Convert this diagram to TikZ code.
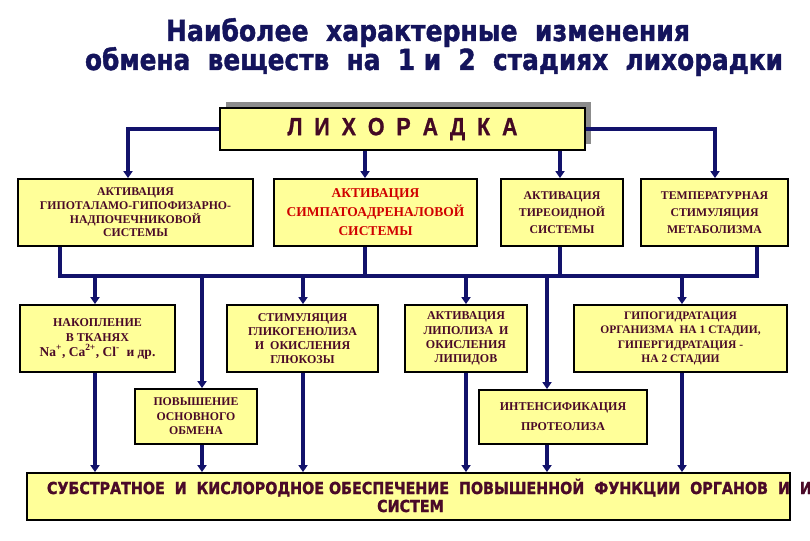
\documentclass[tikz,border=0pt]{standalone}
\usepackage{fontspec}
\usepackage{graphicx}
\usetikzlibrary{arrows.meta}
\setmainfont{Liberation Serif}
\newfontfamily\tfont{DejaVu Sans}[BoldFeatures={FakeBold=1.5}]
\newfontfamily\lfont{Liberation Sans}[BoldFeatures={FakeBold=1}]
\definecolor{navy}{HTML}{12126B}
\definecolor{titleblue}{HTML}{14145C}
\definecolor{maroon}{HTML}{4A0A28}
\definecolor{boxy}{HTML}{FFFF99}
\definecolor{redt}{HTML}{D00000}
\definecolor{shadowg}{HTML}{8C8C8C}
\newsavebox\fitbox
\newlength\fitlen
\newcommand\fitw[2]{\sbox\fitbox{#2}\setlength\fitlen{\wd\fitbox}\pgfmathsetmacro\fitsx{#1/\fitlen}\scalebox{\fitsx}[1]{\usebox\fitbox}}
\newcommand\fitwref[3]{\sbox\fitbox{#2}\setlength\fitlen{\wd\fitbox}\pgfmathsetmacro\fitsx{#1/\fitlen}\scalebox{\fitsx}[1]{#3}}
\newcommand\btxt{\tfont\bfseries\fontsize{16.5}{16.5}\selectfont}
\tikzset{
 box/.style={draw=black, line width=1.8pt, fill=boxy, inner sep=0pt, align=center, text=maroon},
 arr/.style={draw=navy, line width=3.2pt, -{Triangle[width=9pt,length=7pt]}},
 ln/.style={draw=navy, line width=3.2pt},
 plain/.style={inner sep=0pt, outer sep=0pt},
}
\begin{document}
\begin{tikzpicture}[x=1pt,y=-1pt]
\useasboundingbox (0,0) rectangle (810,540);
\clip (0,0) rectangle (810,540);
\fill[white] (0,0) rectangle (810,540);
% title
\node[plain, anchor=base west, text=titleblue] (t1) at (166,41)
 {\fitw{524}{\tfont\bfseries\fontsize{29}{29}\selectfont Наиболее~~характерные~~изменения}};
\node[plain, anchor=base west, text=titleblue] (t2) at (85,70)
 {\fitw{698}{\tfont\bfseries\fontsize{29}{29}\selectfont обмена~~веществ~~на~~1~и~~2~~стадиях~~лихорадки}};
% main box with shadow
\fill[shadowg] (226,102) rectangle (591,144);
\node[box, minimum width=365pt, minimum height=42pt, text=maroon!90!black] (main) at (402.5,129)
 {\fitw{230}{\lfont\bfseries\fontsize{25}{25}\selectfont Л~~И~~Х~~О~~Р~~А~~Д~~К~~А}};
% row 1
\node[box, minimum width=235pt, minimum height=67pt, font=\bfseries\fontsize{11.8}{13.7}\selectfont] (b1) at (135.5,212.5)
 {АКТИВАЦИЯ\\ГИПОТАЛАМО-ГИПОФИЗАРНО-\\НАДПОЧЕЧНИКОВОЙ\\СИСТЕМЫ};
\node[box, minimum width=203pt, minimum height=67pt, text=redt, font=\bfseries\fontsize{13.5}{19}\selectfont] (b2) at (375.5,212.5)
 {АКТИВАЦИЯ\\СИМПАТОАДРЕНАЛОВОЙ\\СИСТЕМЫ};
\node[box, minimum width=122pt, minimum height=67pt, font=\bfseries\fontsize{11.8}{17}\selectfont] (b3) at (562,212.5)
 {АКТИВАЦИЯ\\ТИРЕОИДНОЙ\\СИСТЕМЫ};
\node[box, minimum width=147pt, minimum height=67pt, font=\bfseries\fontsize{11.8}{17}\selectfont] (b4) at (714.5,212.5)
 {ТЕМПЕРАТУРНАЯ\\СТИМУЛЯЦИЯ\\МЕТАБОЛИЗМА};
% row 2
\node[box, minimum width=155pt, minimum height=67pt, font=\bfseries\fontsize{12}{15}\selectfont] (c1) at (97.5,338.5)
 {НАКОПЛЕНИЕ\\В ТКАНЯХ\\{\fontsize{13.5}{15}\selectfont Na\textsuperscript{+}, Ca\textsuperscript{2+}, Cl\textsuperscript{-} ~и др.}};
\node[box, minimum width=151pt, minimum height=67pt, font=\bfseries\fontsize{12}{14}\selectfont] (c2) at (302.5,338.5)
 {СТИМУЛЯЦИЯ\\ГЛИКОГЕНОЛИЗА\\И~ ОКИСЛЕНИЯ\\ГЛЮКОЗЫ};
\node[box, minimum width=122pt, minimum height=67pt, font=\bfseries\fontsize{12}{14.3}\selectfont] (c3) at (466,338.5)
 {АКТИВАЦИЯ\\ЛИПОЛИЗА~ И\\ОКИСЛЕНИЯ\\ЛИПИДОВ};
\node[box, minimum width=213pt, minimum height=67pt, font=\bfseries\fontsize{11.5}{14.3}\selectfont] (c4) at (680.5,338.5)
 {ГИПОГИДРАТАЦИЯ\\ОРГАНИЗМА~ НА 1 СТАДИИ,\\ГИПЕРГИДРАТАЦИЯ -\\НА 2 СТАДИИ};
% row 3
\node[box, minimum width=122pt, minimum height=55pt, font=\bfseries\fontsize{11.8}{14.5}\selectfont] (d1) at (196,416.5)
 {ПОВЫШЕНИЕ\\ОСНОВНОГО\\ОБМЕНА};
\node[box, minimum width=168pt, minimum height=54pt, font=\bfseries\fontsize{12}{20}\selectfont] (d2) at (563,417)
 {ИНТЕНСИФИКАЦИЯ\\ПРОТЕОЛИЗА};
% bottom box
\node[box, minimum width=763pt, minimum height=47pt] (bot) at (408.5,496.5) {};
\node[plain, anchor=base west, text=maroon] (bt1) at (47,494)
 {\fitwref{721}{\btxt СУБСТРАТНОЕ~~И~~КИСЛОРОДНОЕ ОБЕСПЕЧЕНИЕ~~ПОВЫШЕННОЙ~~ФУНКЦИИ~~ОРГАНОВ}{\btxt СУБСТРАТНОЕ~~И~~КИСЛОРОДНОЕ ОБЕСПЕЧЕНИЕ~~ПОВЫШЕННОЙ~~ФУНКЦИИ~~ОРГАНОВ~~И~~И}};
\node[plain, anchor=base, text=maroon] (bt2) at (410.5,512)
 {\fitwref{721}{\btxt СУБСТРАТНОЕ~~И~~КИСЛОРОДНОЕ ОБЕСПЕЧЕНИЕ~~ПОВЫШЕННОЙ~~ФУНКЦИИ~~ОРГАНОВ}{\btxt СИСТЕМ}};
% x positions
\coordinate (x128) at (128,0);
\coordinate (x365) at (365,0);
\coordinate (x560) at (560,0);
\coordinate (x715) at (715,0);
\coordinate (x95) at (95,0);
\coordinate (x202) at (202,0);
\coordinate (x303) at (303,0);
\coordinate (x466) at (466,0);
\coordinate (x547) at (547,0);
\coordinate (x682) at (682,0);
\coordinate (busL) at (60,276);
\coordinate (busR) at (757,276);
% connectors from main
\draw[arr] (main.west) -| (b1.north -| x128);
\draw[arr] (main.south -| x365) -- (b2.north -| x365);
\draw[arr] (main.south -| x560) -- (b3.north -| x560);
\draw[arr] (main.east) -| (b4.north -| x715);
% bus
\draw[ln] (b1.south -| busL) -- (busL) -- (busR) -- (b4.south -| busR);
\draw[ln] (b2.south -| x365) -- (busL -| x365);
\draw[ln] (b3.south -| x560) -- (busL -| x560);
% from bus down
\draw[arr] (busL -| x95) -- (c1.north -| x95);
\draw[arr] (busL -| x202) -- (d1.north -| x202);
\draw[arr] (busL -| x303) -- (c2.north -| x303);
\draw[arr] (busL -| x466) -- (c3.north -| x466);
\draw[arr] (busL -| x547) -- (d2.north -| x547);
\draw[arr] (busL -| x682) -- (c4.north -| x682);
% to bottom
\draw[arr] (c1.south -| x95) -- (bot.north -| x95);
\draw[arr] (d1.south -| x202) -- (bot.north -| x202);
\draw[arr] (c2.south -| x303) -- (bot.north -| x303);
\draw[arr] (c3.south -| x466) -- (bot.north -| x466);
\draw[arr] (d2.south -| x547) -- (bot.north -| x547);
\draw[arr] (c4.south -| x682) -- (bot.north -| x682);
\end{tikzpicture}
\end{document}
